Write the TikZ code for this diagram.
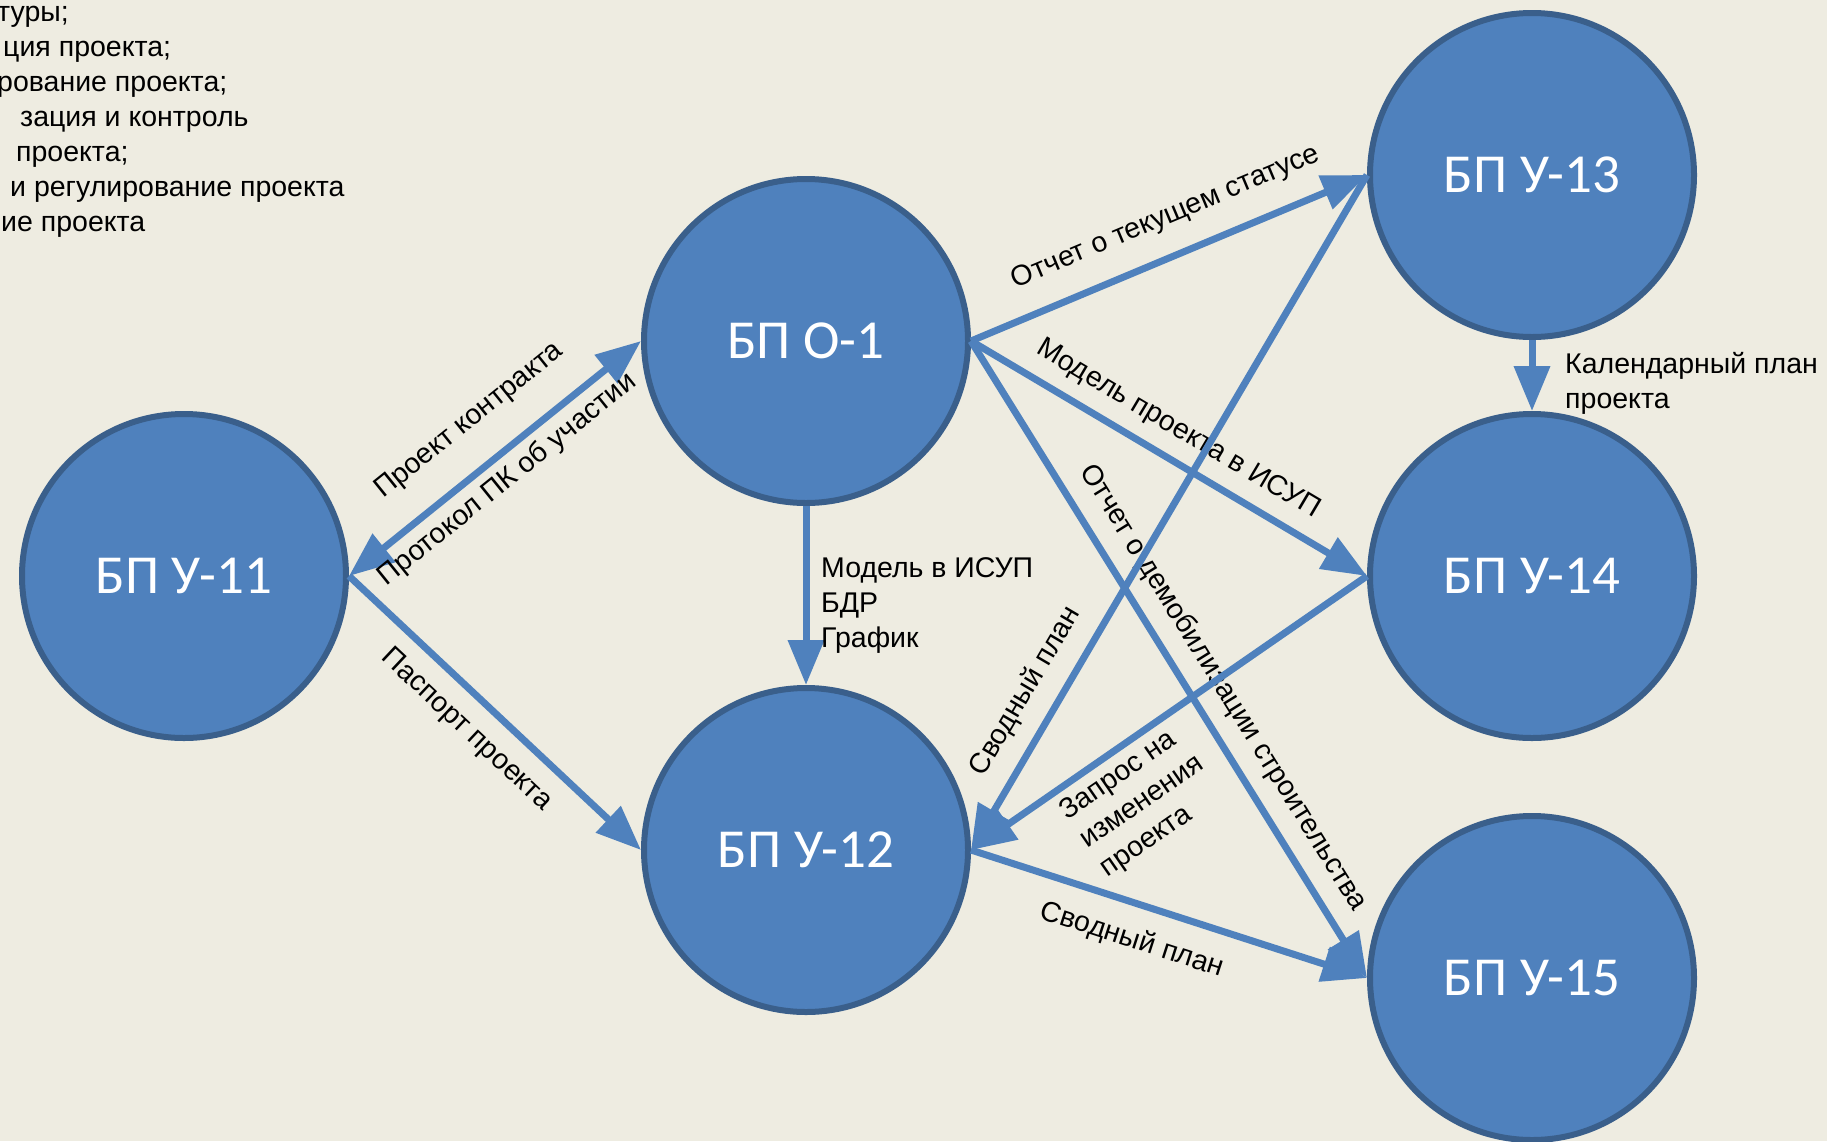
\documentclass[tikz,border=0pt]{standalone}
\usepackage{fontspec}
\setmainfont{Liberation Sans}
\newfontfamily\carlito{Carlito}
\usetikzlibrary{arrows.meta}
\definecolor{bg}{HTML}{EEECE1}
\definecolor{bpfill}{HTML}{4F81BD}
\definecolor{bpborder}{HTML}{3A5F8B}
\definecolor{flowc}{HTML}{4F81BD}
\begin{document}
\begin{tikzpicture}[x=1pt,y=-1pt,
  bp/.style={circle, fill=bpfill, draw=bpborder, line width=6pt, minimum size=324pt,
    inner sep=0pt, outer sep=3pt, text=white, font=\carlito\fontsize{55}{64}\selectfont},
  tip/.style={-{Triangle[length=45pt,width=35pt]}},
  flow/.style={draw=flowc, line width=7pt, tip},
  lbl/.style={font=\fontsize{28.5}{35}\selectfont, inner sep=0pt, text height=20.4pt, text depth=6pt},
  mlbl/.style={font=\fontsize{28.5}{35}\selectfont, inner sep=0pt},
  frag/.style={font=\fontsize{28.5}{35}\selectfont, inner sep=0pt, anchor=base west}]
\fill[bg] (0,0) rectangle (1827,1141);
\useasboundingbox (0,0) rectangle (1827,1141);

% left-top text fragments
\node[frag] (t1) at (-3,21) {туры;};
\node[frag] (t2) at (3,56) {ция проекта;};
\node[frag] (t3) at (-3,91) {рование проекта;};
\node[frag] (t4) at (20,126) {зация и контроль};
\node[frag] (t5) at (16,161) {проекта;};
\node[frag] (t6) at (10,196) {и регулирование проекта};
\node[frag] (t7) at (1,231) {ие проекта};

% circles
\node[bp] (u11) at (184,576) {БП У-11};
\node[bp] (o1)  at (806,341) {БП О-1};
\node[bp] (u12) at (806,850) {БП У-12};
\node[bp] (u13) at (1532,175) {БП У-13};
\node[bp] (u14) at (1532,576) {БП У-14};
\node[bp] (u15) at (1532,978) {БП У-15};

% connectors
\draw[flow, {Triangle[length=45pt,width=35pt]}-{Triangle[length=45pt,width=35pt]}] (u11.east) --
  node[lbl, sloped, above=29pt, pos=0.51] (lpk) {Проект контракта}
  node[lbl, sloped, below=8pt, pos=0.49] (lpr) {Протокол ПК об участии} (o1.west);
\draw[flow] (o1.south) -- (u12.north);
\node[frag] (m1) at (821,577) {Модель в ИСУП};
\node[frag] (m2) at (821,612) {БДР};
\node[frag] (m3) at (821,647) {График};
\draw[flow] (u11.east) -- node[lbl, sloped, below=15pt, pos=0.477] (lpp) {Паспорт проекта} (u12.west);
\draw[flow] (o1.east) -- node[lbl, sloped, above=22pt, pos=0.53] (lots) {Отчет о текущем статусе} (u13.west);
\draw[flow] (o1.east) -- node[lbl, sloped, above=13pt, pos=0.485] (lmp) {Модель проекта в ИСУП} (u14.west);
\draw[flow] (o1.east) -- node[lbl, sloped, above=14pt, pos=0.57] (lod) {Отчет о демобилизации строительства} (u15.west);
\draw[flow] (u13.west) -- node[lbl, sloped, above=16pt, pos=0.79] (lsp1) {Сводный план} (u12.east);
\draw[flow] (u14.west) -- node[mlbl, sloped, below=7pt, pos=0.651, align=left] (lzap) {Запрос на\\изменения\\проекта} (u12.east);
\draw[flow] (u12.east) -- node[lbl, sloped, below=20pt, pos=0.435] (lsp2) {Сводный план} (u15.west);
\draw[flow] (u13.south) -- (u14.north);
\node[frag] (k1) at (1565,373) {Календарный план};
\node[frag] (k2) at (1565,408) {проекта};
\end{tikzpicture}
\end{document}
